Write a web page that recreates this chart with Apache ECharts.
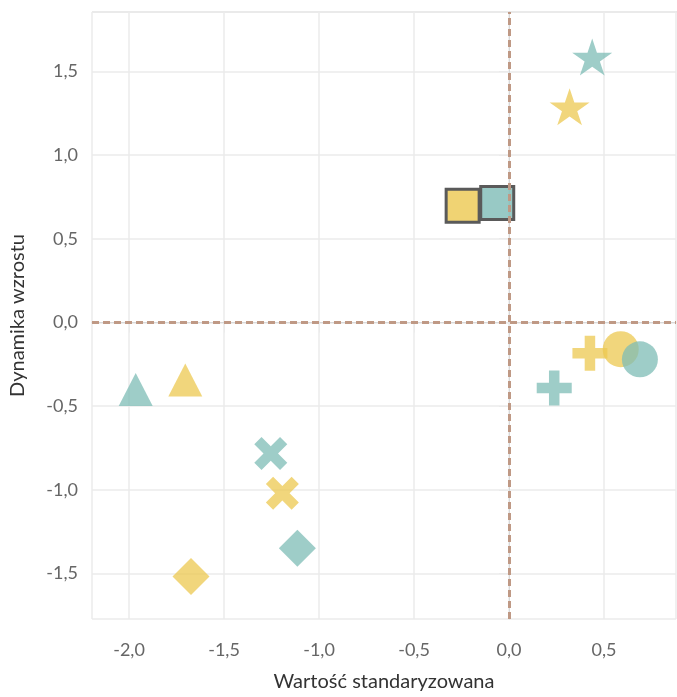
<!DOCTYPE html>
<html>
<head>
<meta charset="utf-8">
<script src="https://cdn.jsdelivr.net/npm/echarts@6/dist/echarts.min.js"></script>
<style>html,body{margin:0;padding:0;background:#fff}#c{width:677px;height:697px}</style>
</head>
<body>
<div id="c"></div>
<script>
// Data (x = Wartość standaryzowana, y = Dynamika wzrostu)
const groups = ['A', 'B']; // A = yellow, B = teal
const shapes = ['square', 'star', 'plus', 'circle', 'triangle', 'cross', 'diamond'];
const yellowX = [-0.244, 0.319, 0.426, 0.588, -1.704, -1.193, -1.674];
const yellowY = [0.697, 1.288, -0.184, -0.160, -0.343, -1.020, -1.517];
const tealX = [-0.062, 0.438, 0.238, 0.689, -1.965, -1.254, -1.114];
const tealY = [0.713, 1.585, -0.392, -0.220, -0.401, -0.782, -1.349];
const refX = [0];
const refY = [0];
const xTitle = 'Wartość standaryzowana';
const yTitle = 'Dynamika wzrostu';

const yellow = 'rgba(236,200,80,0.75)';
const teal = 'rgba(126,188,182,0.75)';

const symbolDef = {
  square: { symbol: 'rect', size: 33, border: true },
  star: { symbol: 'path://M50 0 L61.23 34.55 L97.55 34.55 L68.17 55.9 L79.39 90.45 L50 69.1 L20.61 90.45 L31.83 55.9 L2.45 34.55 L38.77 34.55 Z', size: [40, 37] },
  plus: { symbol: 'path://M35 0 H65 V35 H100 V65 H65 V100 H35 V65 H0 V35 H35 Z', size: 35 },
  circle: { symbol: 'circle', size: 36 },
  triangle: { symbol: 'triangle', size: [34, 33] },
  cross: { symbol: 'path://M0 22 L22 0 L50 28 L78 0 L100 22 L72 50 L100 78 L78 100 L50 72 L22 100 L0 78 L28 50 Z', size: 33 },
  diamond: { symbol: 'diamond', size: 37 }
};

const fmt = v => v.toFixed(1).replace('.', ',');

const series = [];
// reference lines
series.push({
  type: 'line', data: [], silent: true, z: 1,
  markLine: {
    silent: true, symbol: 'none', animation: false,
    label: { show: false },
    lineStyle: { color: '#BF9985', width: 3, type: [7, 4] },
    data: [ ...refX.map(v => ({ xAxis: v })), ...refY.map(v => ({ yAxis: v })) ]
  }
});

shapes.forEach((s, i) => {
  const d = symbolDef[s];
  [[yellowX, yellowY, yellow, 'A'], [tealX, tealY, teal, 'B']].forEach(([xs, ys, col, g]) => {
    series.push({
      type: 'scatter', name: g + '-' + s, z: 3,
      symbol: d.symbol, symbolSize: d.size,
      data: [[xs[i], ys[i]]],
      itemStyle: d.border
        ? { color: col.replace('0.75', '0.8'), borderColor: '#5a5a5a', borderWidth: 3, opacity: 1 }
        : { color: col, opacity: 1 }
    });
  });
});

const chart = echarts.init(document.getElementById('c'), null, { renderer: 'canvas' });
const axisCommon = {
  type: 'value',
  axisLine: { show: true, lineStyle: { color: '#d9d9d9', width: 1 } },
  axisTick: { show: true, length: 10, lineStyle: { color: '#ebebeb', width: 1 } },
  splitLine: { show: true, lineStyle: { color: '#ebebeb', width: 1.5 } },
  axisLabel: { color: '#666', fontSize: 18, fontFamily: 'Lato', formatter: fmt, showMinLabel: false, showMaxLabel: false },
  nameLocation: 'middle',
  nameTextStyle: { color: '#333', fontSize: 20, fontFamily: 'Lato' }
};
chart.setOption({
  animation: false,
  backgroundColor: '#fff',
  grid: { left: 92, right: 1, top: 12, bottom: 75, show: true, borderWidth: 0 },
  graphic: [{ type: 'line', shape: { x1: 92, y1: 12, x2: 677, y2: 12 }, style: { stroke: '#e0e0e0', lineWidth: 1.5 }, silent: true }],
  xAxis: Object.assign({}, axisCommon, {
    min: -2.195, max: 0.879, splitNumber: 6,
    name: xTitle, nameGap: 53,
    axisLabel: Object.assign({}, axisCommon.axisLabel, { margin: 22 })
  }),
  yAxis: Object.assign({}, axisCommon, {
    min: -1.771, max: 1.854, splitNumber: 7,
    name: yTitle, nameGap: 64,
    axisLabel: Object.assign({}, axisCommon.axisLabel, { margin: 14 })
  }),
  series: series
});
</script>
</body>
</html>
